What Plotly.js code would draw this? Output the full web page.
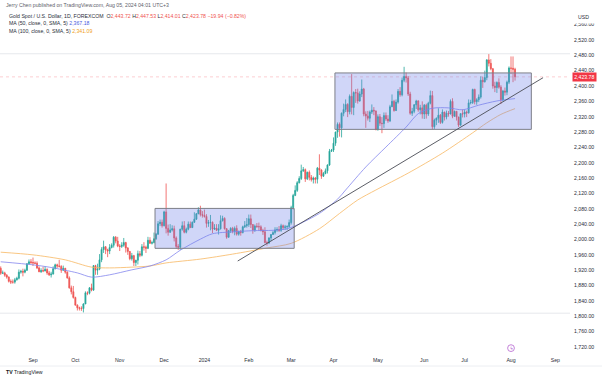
<!DOCTYPE html>
<html><head><meta charset="utf-8">
<script src="https://cdn.plot.ly/plotly-3.0.1.min.js"></script>
<style>html,body{margin:0;padding:0;background:#fff;}#chart{width:602px;height:378px;}</style>
</head><body><div id="chart"></div>
<script>
// ---- daily bars (Gold Spot / USD, FOREXCOM, 1D) ----
const days = [
"2023-08-10","2023-08-11","2023-08-14","2023-08-15","2023-08-16","2023-08-17","2023-08-18","2023-08-21","2023-08-22","2023-08-23","2023-08-24","2023-08-25","2023-08-28","2023-08-29","2023-08-30","2023-08-31",
"2023-09-01","2023-09-04","2023-09-05","2023-09-06","2023-09-07","2023-09-08","2023-09-11","2023-09-12","2023-09-13","2023-09-14","2023-09-15","2023-09-18","2023-09-19","2023-09-20","2023-09-21","2023-09-22","2023-09-25","2023-09-26","2023-09-27","2023-09-28","2023-09-29",
"2023-10-02","2023-10-03","2023-10-04","2023-10-05","2023-10-06","2023-10-09","2023-10-10","2023-10-11","2023-10-12","2023-10-13","2023-10-16","2023-10-17","2023-10-18","2023-10-19","2023-10-20","2023-10-23","2023-10-24","2023-10-25","2023-10-26","2023-10-27","2023-10-30","2023-10-31",
"2023-11-01","2023-11-02","2023-11-03","2023-11-06","2023-11-07","2023-11-08","2023-11-09","2023-11-10","2023-11-13","2023-11-14","2023-11-15","2023-11-16","2023-11-17","2023-11-20","2023-11-21","2023-11-22","2023-11-23","2023-11-24","2023-11-27","2023-11-28","2023-11-29","2023-11-30",
"2023-12-01","2023-12-04","2023-12-05","2023-12-06","2023-12-07","2023-12-08","2023-12-11","2023-12-12","2023-12-13","2023-12-14","2023-12-15","2023-12-18","2023-12-19","2023-12-20","2023-12-21","2023-12-22","2023-12-26","2023-12-27","2023-12-28","2023-12-29",
"2024-01-02","2024-01-03","2024-01-04","2024-01-05","2024-01-08","2024-01-09","2024-01-10","2024-01-11","2024-01-12","2024-01-15","2024-01-16","2024-01-17","2024-01-18","2024-01-19","2024-01-22","2024-01-23","2024-01-24","2024-01-25","2024-01-26","2024-01-29","2024-01-30","2024-01-31",
"2024-02-01","2024-02-02","2024-02-05","2024-02-06","2024-02-07","2024-02-08","2024-02-09","2024-02-12","2024-02-13","2024-02-14","2024-02-15","2024-02-16","2024-02-19","2024-02-20","2024-02-21","2024-02-22","2024-02-23","2024-02-26","2024-02-27","2024-02-28","2024-02-29",
"2024-03-01","2024-03-04","2024-03-05","2024-03-06","2024-03-07","2024-03-08","2024-03-11","2024-03-12","2024-03-13","2024-03-14","2024-03-15","2024-03-18","2024-03-19","2024-03-20","2024-03-21","2024-03-22","2024-03-25","2024-03-26","2024-03-27","2024-03-28","2024-03-29",
"2024-04-01","2024-04-02","2024-04-03","2024-04-04","2024-04-05","2024-04-08","2024-04-09","2024-04-10","2024-04-11","2024-04-12","2024-04-15","2024-04-16","2024-04-17","2024-04-18","2024-04-19","2024-04-22","2024-04-23","2024-04-24","2024-04-25","2024-04-26","2024-04-29","2024-04-30",
"2024-05-01","2024-05-02","2024-05-03","2024-05-06","2024-05-07","2024-05-08","2024-05-09","2024-05-10","2024-05-13","2024-05-14","2024-05-15","2024-05-16","2024-05-17","2024-05-20","2024-05-21","2024-05-22","2024-05-23","2024-05-24","2024-05-27","2024-05-28","2024-05-29","2024-05-30","2024-05-31",
"2024-06-03","2024-06-04","2024-06-05","2024-06-06","2024-06-07","2024-06-10","2024-06-11","2024-06-12","2024-06-13","2024-06-14","2024-06-17","2024-06-18","2024-06-19","2024-06-20","2024-06-21","2024-06-24","2024-06-25","2024-06-26","2024-06-27","2024-06-28",
"2024-07-01","2024-07-02","2024-07-03","2024-07-04","2024-07-05","2024-07-08","2024-07-09","2024-07-10","2024-07-11","2024-07-12","2024-07-15","2024-07-16","2024-07-17","2024-07-18","2024-07-19","2024-07-22","2024-07-23","2024-07-24","2024-07-25","2024-07-26","2024-07-29","2024-07-30","2024-07-31",
"2024-08-01","2024-08-02","2024-08-05"];

const openP = [
1925,1912,1913,1907,1902,1891,1889,1889,1895,1899,1915,1917,1915,1920,1937,1942,
1940,1939,1938,1926,1916,1919,1918,1922,1913,1908,1910,1924,1934,1931,1930,1920,1925,1915,1900,1874,1864,
1849,1829,1822,1821,1820,1832,1861,1860,1874,1868,1932,1920,1923,1947,1974,1981,1973,1970,1979,1985,2006,1996,
1983,1982,1985,1992,1978,1969,1950,1958,1940,1946,1963,1959,1981,1980,1977,1998,1990,1992,2002,2014,2041,2045,
2036,2072,2029,2019,2025,2028,2004,1982,1980,2027,2036,2019,2027,2040,2031,2045,2053,2067,2077,2065,
2063,2060,2042,2044,2045,2027,2030,2024,2028,2049,2055,2028,2006,2023,2029,2021,2029,2014,2021,2018,2033,2036,
2039,2054,2039,2025,2035,2034,2033,2024,2020,1992,1991,2004,2013,2018,2025,2026,2024,2036,2031,2033,2034,
2044,2083,2115,2128,2148,2159,2179,2182,2158,2175,2162,2156,2160,2157,2186,2181,2165,2172,2179,2194,2230,
2233,2251,2280,2300,2291,2329,2339,2352,2333,2373,2344,2383,2382,2361,2379,2392,2327,2322,2316,2332,2337,2335,
2286,2320,2303,2302,2323,2314,2309,2346,2360,2336,2358,2386,2377,2415,2425,2421,2379,2329,2334,2351,2361,2338,2343,
2327,2350,2327,2355,2375,2294,2311,2316,2324,2305,2332,2319,2329,2327,2360,2321,2334,2319,2298,2328,
2327,2332,2330,2356,2357,2391,2359,2364,2371,2415,2411,2422,2468,2459,2445,2400,2396,2409,2397,2364,2387,2384,2410,
2447,2446,2443.72];

const highP = [
1930,1919,1916,1910,1904,1896,1896,1900,1903,1922,1921,1924,1924,1938,1948,1949,
1953,1943,1943,1930,1925,1929,1930,1925,1918,1916,1930,1937,1937,1947,1933,1932,1926,1917,1904,1880,1879,
1851,1831,1825,1826,1834,1865,1865,1876,1885,1933,1934,1937,1962,1980,1997,1983,1976,1988,1990,2009,2009,2007,
1988,1993,2004,1994,1980,1970,1965,1960,1947,1971,1970,1988,1993,1984,2007,2006,1997,2018,2017,2048,2052,2052,
2075,2146,2039,2040,2037,2036,2008,1988,2028,2047,2048,2031,2047,2047,2047,2071,2069,2084,2088,2074,
2078,2066,2051,2064,2047,2040,2040,2040,2063,2062,2058,2030,2025,2032,2033,2034,2037,2023,2025,2036,2048,2056,
2065,2065,2040,2039,2043,2044,2037,2028,2032,1997,2006,2014,2022,2032,2032,2035,2041,2039,2038,2037,2052,
2088,2119,2141,2152,2165,2195,2189,2185,2177,2180,2168,2164,2163,2189,2222,2183,2176,2185,2196,2236,2236,
2266,2281,2305,2305,2331,2354,2365,2355,2378,2431,2386,2392,2393,2386,2417,2395,2334,2335,2336,2352,2345,2336,
2326,2327,2319,2331,2331,2324,2351,2378,2364,2365,2392,2397,2422,2450,2435,2426,2385,2343,2353,2364,2363,2351,2360,
2353,2354,2359,2388,2387,2315,2318,2342,2327,2339,2333,2336,2335,2365,2368,2336,2335,2320,2329,2339,
2338,2336,2365,2364,2393,2393,2368,2378,2425,2424,2440,2470,2483,2470,2447,2411,2412,2420,2402,2390,2396,2414,2451,
2477,2477,2447.53];

const lowP = [
1908,1910,1903,1898,1888,1884,1885,1885,1893,1896,1911,1904,1912,1918,1934,1936,
1931,1936,1923,1915,1913,1915,1917,1908,1905,1901,1909,1922,1926,1927,1913,1918,1911,1898,1872,1857,1846,
1828,1815,1815,1814,1810,1832,1855,1857,1865,1867,1908,1908,1920,1941,1965,1962,1954,1962,1977,1979,1990,1980,
1970,1978,1981,1966,1960,1946,1945,1931,1931,1935,1954,1956,1971,1965,1975,1989,1987,1990,1999,2012,2035,2031,
2034,2016,2010,2017,2021,1995,1976,1973,1973,2023,2016,2016,2024,2030,2030,2043,2051,2066,2060,2057,
2057,2031,2033,2024,2017,2025,2022,2013,2026,2047,2026,2002,2005,2017,2016,2011,2010,2010,2010,2016,2030,2031,
2033,2030,2015,2020,2030,2024,2021,2012,1990,1984,1988,1996,2012,2013,2020,2020,2020,2025,2025,2025,2030,
2039,2078,2113,2124,2146,2155,2176,2150,2155,2154,2151,2146,2146,2146,2168,2158,2163,2170,2172,2192,2228,
2228,2244,2265,2268,2266,2321,2332,2319,2326,2326,2324,2356,2354,2359,2371,2321,2291,2310,2306,2327,2324,2285,
2284,2296,2277,2291,2309,2304,2306,2345,2333,2335,2354,2372,2373,2410,2409,2374,2325,2322,2329,2340,2333,2326,2315,
2314,2315,2322,2352,2287,2288,2298,2304,2301,2302,2310,2313,2320,2326,2316,2320,2310,2293,2297,2318,
2318,2319,2328,2352,2353,2352,2351,2358,2367,2395,2409,2415,2451,2441,2393,2384,2382,2393,2353,2360,2375,2376,2405,
2431,2410,2414.01];

const closeP = [
1912,1913,1907,1902,1891,1889,1889,1895,1899,1915,1917,1915,1920,1937,1942,1940,
1939,1938,1926,1916,1919,1918,1922,1913,1908,1910,1924,1934,1931,1930,1920,1925,1915,1900,1874,1864,1849,
1829,1822,1821,1820,1832,1861,1860,1874,1868,1932,1920,1923,1947,1974,1981,1973,1970,1979,1985,2006,1996,1983,
1982,1985,1992,1978,1969,1950,1958,1940,1946,1963,1959,1981,1980,1977,1998,1990,1992,2002,2014,2041,2045,2036,
2072,2029,2019,2025,2028,2004,1982,1980,2027,2036,2019,2027,2040,2031,2045,2053,2067,2077,2065,2063,
2060,2042,2044,2045,2027,2030,2024,2028,2049,2055,2028,2006,2023,2029,2021,2029,2014,2021,2018,2033,2036,2039,
2054,2039,2025,2035,2034,2033,2024,2020,1992,1991,2004,2013,2018,2025,2026,2024,2036,2031,2033,2034,2044,
2083,2115,2128,2148,2159,2179,2182,2158,2175,2162,2156,2160,2157,2186,2181,2165,2172,2179,2194,2230,2233,
2251,2280,2300,2291,2329,2339,2352,2333,2373,2344,2383,2382,2361,2379,2392,2327,2322,2316,2332,2337,2335,2286,
2320,2303,2302,2323,2314,2309,2346,2360,2336,2358,2386,2377,2415,2425,2421,2379,2329,2334,2351,2361,2338,2343,2327,
2350,2327,2355,2375,2294,2311,2316,2324,2305,2332,2319,2329,2327,2360,2321,2334,2319,2298,2328,2327,
2332,2330,2356,2357,2391,2359,2364,2371,2415,2411,2422,2468,2459,2445,2400,2396,2409,2397,2364,2387,2384,2410,2447,
2446,2443.72,2423.78];

// ---- moving averages ----
const ma50Dates = ["2023-08-10","2023-09-01","2023-09-13","2023-10-03","2023-10-12","2023-10-25","2023-11-09","2023-11-22","2023-12-04","2023-12-13","2023-12-28","2024-01-08","2024-01-22","2024-02-05","2024-02-19","2024-02-28","2024-03-06","2024-03-21","2024-04-03","2024-04-09","2024-04-23","2024-05-07","2024-05-21","2024-05-29","2024-06-07","2024-06-19","2024-06-28","2024-07-10","2024-07-23","2024-08-05"];
const ma50Vals = [1942,1934,1928,1913,1902,1908,1921,1931,1947,1972,2001,2015,2020,2023,2024,2028,2038,2068,2105,2129,2189,2241,2293,2328,2342,2343,2338,2350,2361,2367.18];
const ma100Dates = ["2023-08-10","2023-09-01","2023-09-25","2023-10-12","2023-10-25","2023-11-09","2023-11-22","2023-12-04","2023-12-28","2024-01-22","2024-02-14","2024-03-01","2024-03-21","2024-04-04","2024-04-17","2024-04-30","2024-05-22","2024-06-14","2024-07-05","2024-07-16","2024-07-25","2024-08-05"];
const ma100Vals = [1967,1960,1947,1928,1926,1928,1931,1939,1949,1962,1978,1990,2028,2068,2103,2129,2173,2225,2278,2304,2326,2341.09];

// ---- drawings ----
const boxStart = ["2023-11-24 12:00","2024-04-01 17:00"];
const boxEnd = ["2024-03-04 12:00","2024-08-15 02:00"];
const boxTop = [2081,2434];
const boxBottom = [1977,2287];
const trendX = ["2024-01-24 12:00","2024-08-22 21:36"];
const trendY = [1944,2421.6];
const levelLines = [2484,1808];

// ---- axes ----
const xTickVals = ["2023-09-01","2023-10-02","2023-11-01","2023-12-01","2024-01-02","2024-02-01","2024-03-01","2024-04-01","2024-05-01","2024-06-03","2024-07-01","2024-08-01","2024-09-02"];
const xTickText = ["Sep","Oct","Nov","Dec","2024","Feb","Mar","Apr","May","Jun","Jul","Aug","Sep"];
const yTickVals = [1720,1760,1800,1840,1880,1920,1960,2000,2040,2080,2120,2160,2200,2240,2280,2320,2360,2400,2440,2480,2520,2560];
const holidays = ["2023-12-25","2024-01-01"];

// ---- layout helpers ----
const FW=602, FH=378, ML=0, MR=32, MT=11, MB=25;
const PW=FW-ML-MR, PH=FH-MT-MB;
const px = x => (x-ML)/PW;
const py = y => (FH-MB-y)/PH;
const fmt = v => v.toLocaleString('en-US',{minimumFractionDigits:2,maximumFractionDigits:2});
const FONT = "Liberation Sans, Arial, sans-serif";
const FS = 5.2;
const UP='#26a69a', DN='#ef5350';

const n = closeP.length-1;
const chg = closeP[n]-closeP[n-1];
const pct = chg/closeP[n-1]*100;
const barCol = closeP[n] >= openP[n] ? UP : DN;
const sgn = v => (v<0?'\u2212':'+') + fmt(Math.abs(v));
const vc = s => `<span style="color:${barCol}">${s}</span>`;

const traces = [
  {type:'candlestick', x:days, open:openP, high:highP, low:lowP, close:closeP,
   increasing:{line:{color:UP,width:0.8},fillcolor:UP},
   decreasing:{line:{color:DN,width:0.8},fillcolor:DN},
   whiskerwidth:0, hoverinfo:'skip', showlegend:false},
  {type:'scatter', mode:'lines', x:ma100Dates, y:ma100Vals, line:{color:'#f8b862',width:0.8,shape:'spline',smoothing:0.8}, hoverinfo:'skip', showlegend:false},
  {type:'scatter', mode:'lines', x:ma50Dates, y:ma50Vals, line:{color:'#8487ee',width:0.8,shape:'spline',smoothing:0.8}, hoverinfo:'skip', showlegend:false}
];

const shapes = [];
levelLines.forEach(v=>shapes.push({type:'line',xref:'paper',x0:0,x1:1,yref:'y',y0:v,y1:v,line:{color:'#e6e8ec',width:1},layer:'below'}));
shapes.push({type:'line',xref:'paper',x0:0,x1:1,yref:'y',y0:closeP[n],y1:closeP[n],line:{color:'rgba(242,54,69,0.35)',width:0.7,dash:'dot'},layer:'below'});
for(let i=0;i<boxStart.length;i++){
  shapes.push({type:'rect',xref:'x',yref:'y',x0:boxStart[i],x1:boxEnd[i],y0:boxBottom[i],y1:boxTop[i],
    fillcolor:'rgba(110,128,232,0.32)',line:{color:'#7d7f88',width:1},layer:'above'});
}
shapes.push({type:'line',xref:'x',yref:'y',x0:trendX[0],x1:trendX[1],y0:trendY[0],y1:trendY[1],line:{color:'#4a4c55',width:0.9},layer:'above'});
// mask above the top price label, footer separator
shapes.push({type:'rect',xref:'paper',yref:'paper',x0:1.001,x1:px(FW),y0:py(23.5),y1:py(0),fillcolor:'#fff',line:{width:0},layer:'above'});
shapes.push({type:'line',xref:'paper',yref:'paper',x0:0,x1:px(FW),y0:py(366),y1:py(366),line:{color:'#eceef2',width:1},layer:'above'});
// event marker
shapes.push({type:'circle',xref:'x',xsizemode:'pixel',xanchor:'2024-08-01',x0:-3.4,x1:3.4,yref:'y',ysizemode:'pixel',yanchor:1717,y0:-3.4,y1:3.4,line:{color:'#b563cf',width:0.8},fillcolor:'#fff',layer:'above'});

const ann = (x,y,text,opt={}) => Object.assign({xref:'paper',yref:'paper',x:px(x),y:py(y),text:text,showarrow:false,xanchor:'left',yanchor:'middle',font:{family:FONT,size:FS,color:'#2a2e39'}},opt);

const annotations = [
  ann(4,5,"Jerry Chen published on TradingView.com, Aug 05, 2024 04:01 UTC+3",{font:{family:FONT,size:FS,color:'#5d606b'}}),
  ann(6.5,15.7,`Gold Spot / U.S. Dollar, 1D, FOREXCOM  O${vc(fmt(openP[n]))} H${vc(fmt(highP[n]))} L${vc(fmt(lowP[n]))} C${vc(fmt(closeP[n]))} ${vc(sgn(chg)+' ('+sgn(pct)+'%)')}`),
  ann(6.5,23.3,`MA (50, close, 0, SMA, 5) <span style="color:#4c5be0">${fmt(ma50Vals[ma50Vals.length-1])}</span>`),
  ann(6.5,30.8,`MA (100, close, 0, SMA, 5) <span style="color:#f0a020">${fmt(ma100Vals[ma100Vals.length-1])}</span>`),
  ann(576,17,"USD",{font:{family:FONT,size:FS,color:'#2a2e39'}}),
  {xref:'paper',yref:'y',x:1,xshift:2,y:closeP[n],text:fmt(closeP[n]),showarrow:false,xanchor:'left',yanchor:'middle',
   font:{family:FONT,size:FS,color:'#fff'},bgcolor:'#f23645',borderpad:1.2},
  {xref:'x',yref:'y',x:'2024-08-01',y:1717,text:'\u03df',showarrow:false,font:{family:'DejaVu Sans',size:4.5,color:'#a94ec6'}},
  ann(4,372,`<b>TV</b> TradingView`,{font:{family:FONT,size:FS,color:'#131722'}})
];

const layout = {
  width:FW, height:FH, margin:{l:ML,r:MR,t:MT,b:MB,pad:0},
  paper_bgcolor:'#fff', plot_bgcolor:'#fff', showlegend:false,
  font:{family:FONT,size:FS,color:'#2a2e39'},
  xaxis:{type:'date', range:["2023-08-09 15:22","2024-09-11 06:00"],
    rangebreaks:[{bounds:['sat','mon']},{values:holidays}],
    tickmode:'array', tickvals:xTickVals, ticktext:xTickText,
    showgrid:false, zeroline:false, showline:false, ticks:'', ticklabelstandoff:3,
    tickfont:{family:FONT,size:FS,color:'#2a2e39'}, rangeslider:{visible:false}, fixedrange:true},
  yaxis:{side:'right', range:[1704.3,2595.4], tickmode:'array', tickvals:yTickVals, tickformat:',.2f',
    showgrid:false, zeroline:false, showline:false, ticks:'', ticklabelstandoff:3,
    tickfont:{family:FONT,size:FS,color:'#2a2e39'}, fixedrange:true},
  shapes:shapes, annotations:annotations
};

Plotly.newPlot('chart', traces, layout, {staticPlot:true, displayModeBar:false});
</script></body></html>
